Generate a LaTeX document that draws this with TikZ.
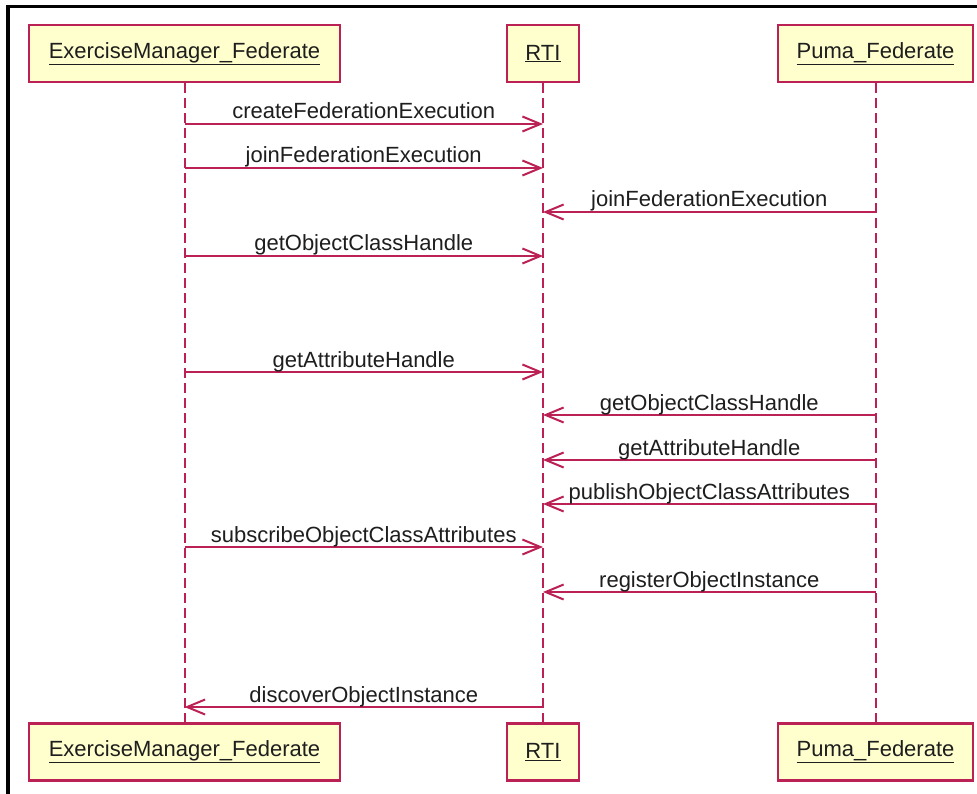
\documentclass[tikz,border=0pt]{standalone}
\usepackage{fontspec}
\setmainfont{Liberation Sans}
\usetikzlibrary{arrows.meta}
\definecolor{umlred}{RGB}{187,33,85}
\definecolor{umlfill}{RGB}{255,255,206}
\definecolor{umltext}{RGB}{30,30,30}
\definecolor{bg}{RGB}{252,252,252}
\tikzset{
  obj/.style={draw=umlred, fill=umlfill, line width=2.2pt, minimum height=57pt, inner sep=0pt,
    font=\fontsize{22}{26}\selectfont, text=umltext},
  life/.style={draw=umlred, line width=2pt, dash pattern=on 10pt off 5pt},
  msg/.style={draw=umlred, line width=2pt, -{Straight Barb[length=18pt,width=15pt,line width=2pt]}},
  lbl/.style={midway, anchor=base, yshift=5pt, inner sep=0pt, font=\fontsize{22}{26}\selectfont, text=umltext}
}
\begin{document}
\begin{tikzpicture}[x=1pt,y=-1pt]
\useasboundingbox (0,0) rectangle (977,794);
\fill[bg] (0,0) rectangle (977,794);
\fill[white] (10,8) rectangle (977,794);
\draw[line width=3.5pt] (6,6.5) -- (977,6.5);
\draw[line width=4pt] (8,5) -- (8,794);
% objects
\node[obj, minimum width=311pt] (Et) at (184.5,53.5) {\underline{ExerciseManager\_Federate}};
\node[obj, minimum width=72pt] (Rt) at (543,53.5) {\underline{RTI}};
\node[obj, minimum width=195pt] (Pt) at (875.5,53.5) {\underline{Puma\_Federate}};
\node[obj, minimum width=311pt] (Eb) at (184.5,752) {\underline{ExerciseManager\_Federate}};
\node[obj, minimum width=72pt] (Rb) at (543,752) {\underline{RTI}};
\node[obj, minimum width=195pt] (Pb) at (875.5,752) {\underline{Puma\_Federate}};
% lifelines
\draw[life] (Et.south) -- (Eb.north);
\draw[life] (Rt.south) -- (Rb.north);
\draw[life] (Pt.south) -- (Pb.north);
% message rows
\coordinate (y1) at (0,124);
\coordinate (y2) at (0,168);
\coordinate (y3) at (0,212);
\coordinate (y4) at (0,256);
\coordinate (y5) at (0,372);
\coordinate (y6) at (0,415);
\coordinate (y7) at (0,460);
\coordinate (y8) at (0,504);
\coordinate (y9) at (0,547);
\coordinate (y10) at (0,592);
\coordinate (y11) at (0,707);
\draw[msg] (Et |- y1) -- (Rt |- y1) node[lbl] {createFederationExecution};
\draw[msg] (Et |- y2) -- (Rt |- y2) node[lbl] {joinFederationExecution};
\draw[msg] (Pt |- y3) -- (Rt |- y3) node[lbl] {joinFederationExecution};
\draw[msg] (Et |- y4) -- (Rt |- y4) node[lbl] {getObjectClassHandle};
\draw[msg] (Et |- y5) -- (Rt |- y5) node[lbl] {getAttributeHandle};
\draw[msg] (Pt |- y6) -- (Rt |- y6) node[lbl] {getObjectClassHandle};
\draw[msg] (Pt |- y7) -- (Rt |- y7) node[lbl] {getAttributeHandle};
\draw[msg] (Pt |- y8) -- (Rt |- y8) node[lbl] {publishObjectClassAttributes};
\draw[msg] (Et |- y9) -- (Rt |- y9) node[lbl] {subscribeObjectClassAttributes};
\draw[msg] (Pt |- y10) -- (Rt |- y10) node[lbl] {registerObjectInstance};
\draw[msg] (Rt |- y11) -- (Et |- y11) node[lbl] {discoverObjectInstance};
\end{tikzpicture}
\end{document}
